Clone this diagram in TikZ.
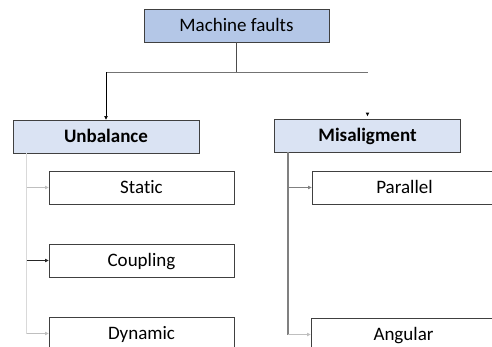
\documentclass[tikz,border=0pt]{standalone}
\usepackage{fontspec}
\setmainfont[Ligatures={NoCommon}]{Carlito}
\usetikzlibrary{arrows.meta}
\definecolor{topfill}{HTML}{B4C7E7}
\definecolor{midfill}{HTML}{DAE3F3}
\definecolor{boxline}{HTML}{404040}
\tikzset{
  anybox/.style={draw=boxline, line width=0.9pt, minimum height=33pt, inner sep=0pt, text height=14.5pt, text depth=2.3pt},
  topbox/.style={anybox, fill=topfill, minimum width=185pt, font=\fontsize{19}{21}\selectfont},
  midbox/.style={anybox, fill=midfill, minimum width=186pt, font=\fontsize{19}{21}\selectfont\bfseries},
  leafbox/.style={anybox, fill=white, minimum width=185pt, font=\fontsize{19}{21}\selectfont},
  tip/.style={-{Triangle[length=3.5pt,width=3.5pt]}},
}
\begin{document}
\begin{tikzpicture}[x=1pt,y=-1pt]
\useasboundingbox (0,0) rectangle (492,347);
\clip (0,0) rectangle (492,347);
\node[topbox] (mf) at (236.5,25.5) {Machine faults};
\node[midbox] (ub) at (106,136.5) {Unbalance};
\node[midbox] (ms) at (367.5,135.5) {Misaligment};
\node[leafbox] (st) at (141.5,187.5) {Static};
\node[leafbox] (cp) at (141.5,260.5) {Coupling};
\node[leafbox] (dy) at (141.5,333.5) {Dynamic};
\node[leafbox] (pa) at (404.5,187.5) {Parallel};
\node[leafbox] (an) at (403.5,334.5) {Angular};
% top connectors
\draw[line width=0.7pt, black!70] (mf.south) -- ++(0,30) coordinate (j);
\coordinate (jl) at (j -| ub.north);
\coordinate (jr) at (j -| ms.north);
\draw[line width=0.7pt, black!55] (jl) -- (jr);
\draw[tip, line width=0.7pt, black] (jl) -- (ub.north);
\fill[black] ([yshift=2.5pt]ms.north) -- ++(-1.8,-3.5) -- ++(3.6,0) -- cycle;
% unbalance subtree
\coordinate (ua) at ([xshift=14pt]ub.south west);
\draw[line width=0.7pt, black!15] (ua) -- (ua |- dy.west);
\draw[tip, line width=0.7pt, black!25] (ua |- st.west) -- (st.west);
\draw[tip, line width=0.7pt, black!85] (ua |- cp.west) -- (cp.west);
\draw[tip, line width=0.7pt, black!25] (ua |- dy.west) -- (dy.west);
% misalignment subtree
\coordinate (ma) at ([xshift=14pt]ms.south west);
\draw[line width=1.3pt, black!50] (ma) -- (ma |- an.west);
\draw[tip, line width=0.7pt, black!50] (ma |- pa.west) -- (pa.west);
\draw[tip, line width=0.7pt, black!25] (ma |- an.west) -- (an.west);
\end{tikzpicture}
\end{document}
